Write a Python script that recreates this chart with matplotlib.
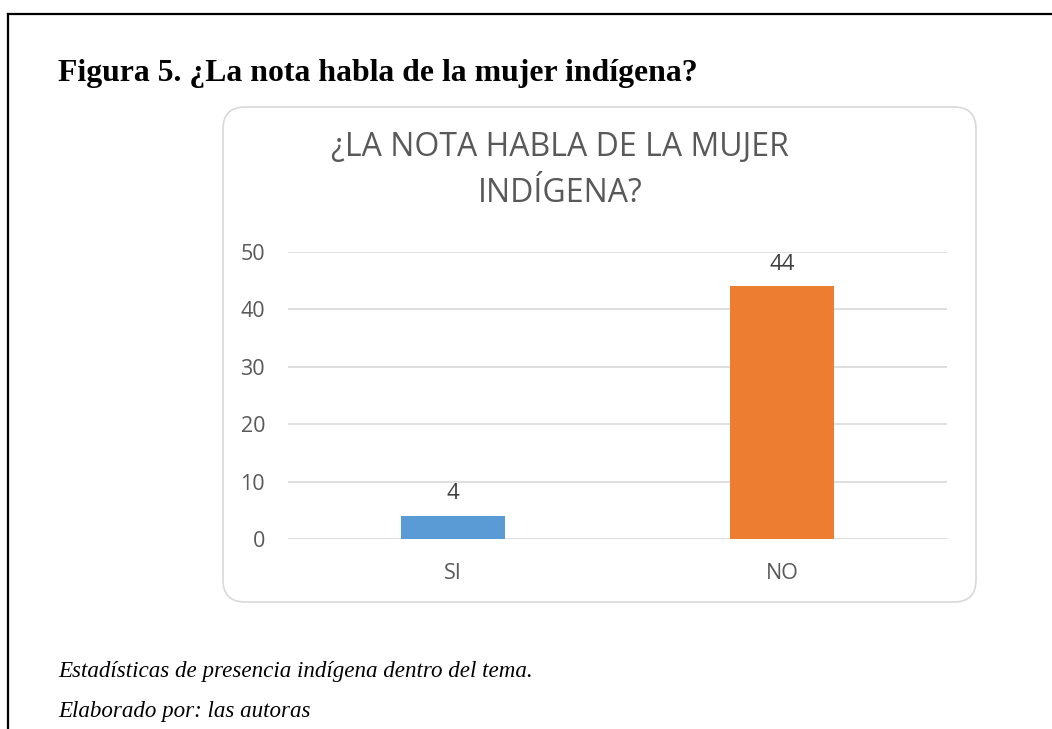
import matplotlib.pyplot as plt
from matplotlib.patches import FancyBboxPatch
from matplotlib.lines import Line2D

categories = ["SI", "NO"]
counts = [4, 44]
bar_colors = ["#5B9BD5", "#ED7D31"]
y_ticks = [0, 10, 20, 30, 40, 50]

W, H = 1052, 729
fig = plt.figure(figsize=(W / 100, H / 100), dpi=100)

# outer page frame (only top and left visible)
fig.add_artist(Line2D([8 / W, 8 / W], [0, 1 - 14 / H], color="black", lw=1.6))
fig.add_artist(Line2D([8 / W, 1], [1 - 14 / H, 1 - 14 / H], color="black", lw=1.6))

# chart area rounded box, kept behind the axes
box = FancyBboxPatch((2.23, 1.27), 7.53, 4.95, boxstyle="round,pad=0,rounding_size=0.22",
                     transform=fig.dpi_scale_trans, facecolor="white", edgecolor="#d9d9d9",
                     lw=1.2, zorder=-5)
fig.add_artist(box)

ax = fig.add_axes([288 / W, (H - 539) / H, 659 / W, 287 / H])
ax.patch.set_alpha(0)
ax.bar(categories, counts, width=0.315, color=bar_colors, zorder=3)
ax.set_xlim(-0.5, 1.5)
ax.set_ylim(0, 50)
ax.set_yticks(y_ticks)
ax.grid(axis="y", color="#d9d9d9", lw=1.2, zorder=0)
for s in ax.spines.values():
    s.set_visible(False)
ax.tick_params(length=0, labelsize=15.5, labelcolor="#595959")
ax.tick_params(axis="x", pad=17.5)
ax.tick_params(axis="y", pad=16.5)
for lab in ax.get_xticklabels() + ax.get_yticklabels():
    lab.set_family("Open Sans")

for i, v in enumerate(counts):
    ax.annotate(str(v), (i, v), xytext=(0, 16), textcoords="offset points",
                ha="center", va="center", fontsize=16, color="#404040", family="Open Sans")

fig.text(560 / W, 1 - 170 / H, "¿LA NOTA HABLA DE LA MUJER\nINDÍGENA?", ha="center", va="center",
         fontsize=23, color="#595959", family="Open Sans", linespacing=1.52)

fig.text(58 / W, 1 - 73 / H, "Figura 5. ¿La nota habla de la mujer indígena?", ha="left", va="center",
         fontsize=22.9, fontweight="bold", family="Liberation Serif")
fig.text(58 / W, 1 - 672 / H, "Estadísticas de presencia indígena dentro del tema.", ha="left",
         va="center", fontsize=16.6, style="italic", family="Liberation Serif")
fig.text(58 / W, 1 - 711 / H, "Elaborado por: las autoras", ha="left",
         va="center", fontsize=16.6, style="italic", family="Liberation Serif")

fig.savefig("out.png", dpi=100)
